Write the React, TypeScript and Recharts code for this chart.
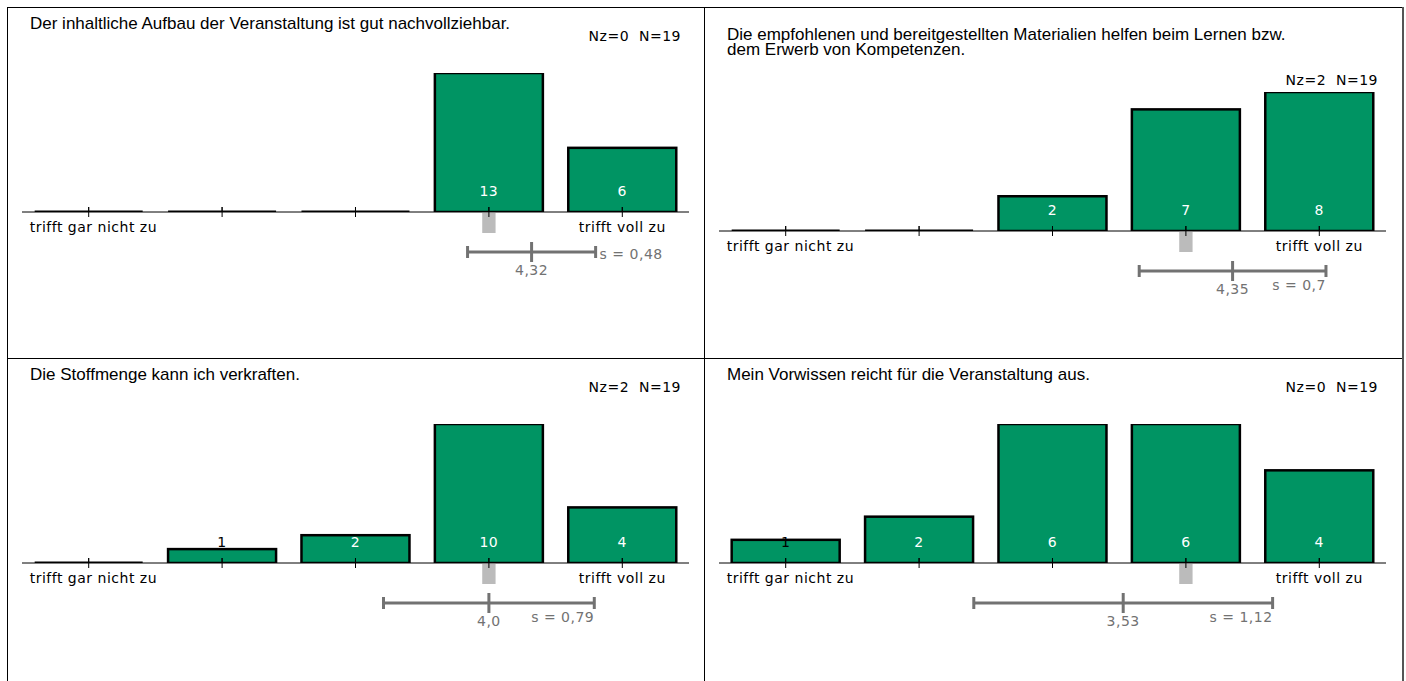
import { BarChart, Bar, XAxis, YAxis, LabelList, ReferenceLine, ReferenceArea } from 'recharts'

// answer scale, 1 = trifft gar nicht zu ... 5 = trifft voll zu
const CATEGORIES = ['1', '2', '3', '4', '5']
const SCALE_LABELS = ['trifft gar nicht zu', '', '', '', 'trifft voll zu']

const TITLES = [
  'Der inhaltliche Aufbau der Veranstaltung ist gut nachvollziehbar.',
  'Die empfohlenen und bereitgestellten Materialien helfen beim Lernen bzw.\ndem Erwerb von Kompetenzen.',
  'Die Stoffmenge kann ich verkraften.',
  'Mein Vorwissen reicht für die Veranstaltung aus.',
]

const COUNTS_AUFBAU = [0, 0, 0, 13, 6]
const COUNTS_MATERIAL = [0, 0, 2, 7, 8]
const COUNTS_STOFF = [0, 1, 2, 10, 4]
const COUNTS_VORWISSEN = [1, 2, 6, 6, 4]

const NZ = [0, 2, 2, 0]
const N_TOTAL = [19, 19, 19, 19]
const MEANS = [4.32, 4.35, 4.0, 3.53]
const SDS = [0.48, 0.7, 0.79, 1.12]
const MEDIANS = [4, 4, 4, 4]
const MEAN_LABELS = ['4,32', '4,35', '4,0', '3,53']
const SD_LABELS = ['0,48', '0,7', '0,79', '1,12']

const GREEN = '#009463'
const GREY = '#727272'
const PANEL_W = 697
const PANEL_H = 351
const BAR_MAX_PX = 139
const SIDE = 15
const AXIS_H = 30

const chartFont = {
  fontFamily: '"DejaVu Sans", sans-serif',
  fontSize: 14,
  letterSpacing: 0.5,
}

function BarShape(props: any) {
  const { x, y, width, height } = props
  const h = Math.abs(height || 0)
  const base = y + (height || 0)
  const cx = x + width / 2
  if (!h) {
    return (
      <g>
        <line x1={x} x2={x + width} y1={base} y2={base} stroke="#000" strokeWidth={3} />
        <line x1={cx} x2={cx} y1={base - 5} y2={base + 5} stroke="#000" strokeWidth={1} />
      </g>
    )
  }
  return (
    <g>
      <rect x={x} y={base - h} width={width} height={h} fill={GREEN} stroke="#000" strokeWidth={2.5} />
      <line x1={cx} x2={cx} y1={base - 5} y2={base} stroke="#000" strokeWidth={1} />
    </g>
  )
}

function ValueLabel(props: any) {
  const vb = props.viewBox ?? props
  const { x, y, width, height } = vb
  const value = props.value
  if (!value) return null
  const h = Math.abs(height)
  const base = y + height
  return (
    <text
      x={x + width / 2}
      y={base - 21}
      textAnchor="middle"
      dominantBaseline="central"
      fill={h < 24 ? '#000' : '#fff'}
      style={chartFont}
    >
      {value}
    </text>
  )
}

function CatTick(props: any) {
  const { x, y, index } = props
  const label = SCALE_LABELS[index]
  return (
    <g>
      <line x1={x} x2={x} y1={y - 5} y2={y + 5} stroke="#000" strokeWidth={1} />
      {label && (
        <text
          x={index === 0 ? x - 59 : x}
          y={y + 15}
          textAnchor={index === 0 ? 'start' : 'middle'}
          dominantBaseline="central"
          fill="#000"
          style={chartFont}
        >
          {label}
        </text>
      )}
    </g>
  )
}

type PanelProps = {
  left: number
  top: number
  idx: number
  counts: number[]
}

function Panel({ left, top, idx, counts }: PanelProps) {
  const title = TITLES[idx]
  const twoLine = title.includes('\n')
  const baseline = twoLine ? 224 : 205
  const maxVal = Math.max(...counts)
  // pixel offset below the baseline -> value on the y scale
  const below = (px: number) => (-px * maxVal) / BAR_MAX_PX

  const mean = MEANS[idx]
  const sd = SDS[idx]
  const median = MEDIANS[idx]
  const sdText = `s = ${SD_LABELS[idx]}`

  const data = CATEGORIES.map((c, i) => ({ cat: c, pos: i + 1, count: counts[i] }))

  const meanLabel = (p: any) => {
    const vb = p.viewBox
    return (
      <text
        x={vb.x}
        y={vb.y + vb.height + 8}
        textAnchor="middle"
        dominantBaseline="central"
        fill={GREY}
        style={chartFont}
      >
        {MEAN_LABELS[idx]}
      </text>
    )
  }

  const sdLabel = (p: any) => {
    const vb = p.viewBox
    const half = vb.width / 2
    const textW = sdText.length * 8
    const onRight = half < textW + 16
    return (
      <text
        x={onRight ? vb.x + vb.width + 4 : vb.x + vb.width}
        y={onRight ? vb.y + 2 : vb.y + 14}
        textAnchor={onRight ? 'start' : 'end'}
        dominantBaseline="central"
        fill={GREY}
        style={chartFont}
      >
        {sdText}
      </text>
    )
  }

  return (
    <div style={{ position: 'absolute', left, top, width: PANEL_W, height: PANEL_H }}>
      <div
        style={{
          position: 'absolute',
          left: 23,
          top: twoLine ? 20 : 9,
          fontFamily: '"Liberation Sans", Arial, sans-serif',
          fontSize: 17,
          lineHeight: '15px',
          color: '#000',
          whiteSpace: 'pre',
        }}
      >
        {title}
      </div>
      <div
        style={{
          position: 'absolute',
          right: 23,
          top: (twoLine ? 73 : 29) - 8,
          lineHeight: '16px',
          color: '#000',
          whiteSpace: 'pre',
          ...chartFont,
        }}
      >
        {`Nz=${NZ[idx]}  N=${N_TOTAL[idx]}`}
      </div>
      <div style={{ position: 'absolute', left: 0, top: 0 }}>
        <BarChart
          width={PANEL_W}
          height={PANEL_H}
          data={data}
          margin={{
            top: baseline - BAR_MAX_PX,
            right: SIDE,
            bottom: PANEL_H - baseline - AXIS_H,
            left: SIDE,
          }}
          barCategoryGap="9.5%"
        >
          <XAxis
            dataKey="cat"
            height={AXIS_H}
            axisLine={{ stroke: '#000', strokeWidth: 1 }}
            tickLine={false}
            tickSize={0}
            tickMargin={0}
            interval={0}
            tick={<CatTick />}
          />
          <XAxis
            xAxisId="num"
            dataKey="pos"
            type="number"
            domain={[0.5, 5.5]}
            hide
            allowDataOverflow
          />
          <YAxis hide type="number" domain={[0, maxVal]} allowDataOverflow />
          <Bar dataKey="count" shape={<BarShape />} isAnimationActive={false}>
            <LabelList dataKey="count" content={<ValueLabel />} />
          </Bar>
          <ReferenceArea
            xAxisId="num"
            x1={median - 0.05}
            x2={median + 0.05}
            y1={below(1)}
            y2={below(21)}
            fill="#bbbbbb"
            fillOpacity={1}
            stroke="none"
            ifOverflow="visible"
          />
          <ReferenceLine
            xAxisId="num"
            segment={[
              { x: mean - sd, y: below(40) },
              { x: mean + sd, y: below(40) },
            ]}
            stroke={GREY}
            strokeWidth={3}
            ifOverflow="visible"
            label={sdLabel}
          />
          <ReferenceLine
            xAxisId="num"
            segment={[
              { x: mean - sd, y: below(34) },
              { x: mean - sd, y: below(46) },
            ]}
            stroke={GREY}
            strokeWidth={3}
            ifOverflow="visible"
          />
          <ReferenceLine
            xAxisId="num"
            segment={[
              { x: mean + sd, y: below(34) },
              { x: mean + sd, y: below(46) },
            ]}
            stroke={GREY}
            strokeWidth={3}
            ifOverflow="visible"
          />
          <ReferenceLine
            xAxisId="num"
            segment={[
              { x: mean, y: below(30) },
              { x: mean, y: below(50) },
            ]}
            stroke={GREY}
            strokeWidth={3}
            ifOverflow="visible"
            label={meanLabel}
          />
        </BarChart>
      </div>
    </div>
  )
}

export default function App() {
  const line = (l: number, t: number, w: number, h: number, c = '#000') => (
    <div style={{ position: 'absolute', left: l, top: t, width: w, height: h, background: c }} />
  )
  return (
    <div
      style={{
        position: 'absolute',
        left: 0,
        top: 0,
        width: 1406,
        height: 681,
        overflow: 'hidden',
        background: '#fff',
      }}
    >
      <Panel left={7} top={7} idx={0} counts={COUNTS_AUFBAU} />
      <Panel left={704} top={7} idx={1} counts={COUNTS_MATERIAL} />
      <Panel left={7} top={358} idx={2} counts={COUNTS_STOFF} />
      <Panel left={704} top={358} idx={3} counts={COUNTS_VORWISSEN} />
      {line(7, 7, 1396, 1)}
      {line(7, 358, 1396, 1)}
      {line(7, 7, 1, 700)}
      {line(704, 7, 1, 700)}
      {line(1402, 7, 2, 700, '#555')}
    </div>
  )
}
